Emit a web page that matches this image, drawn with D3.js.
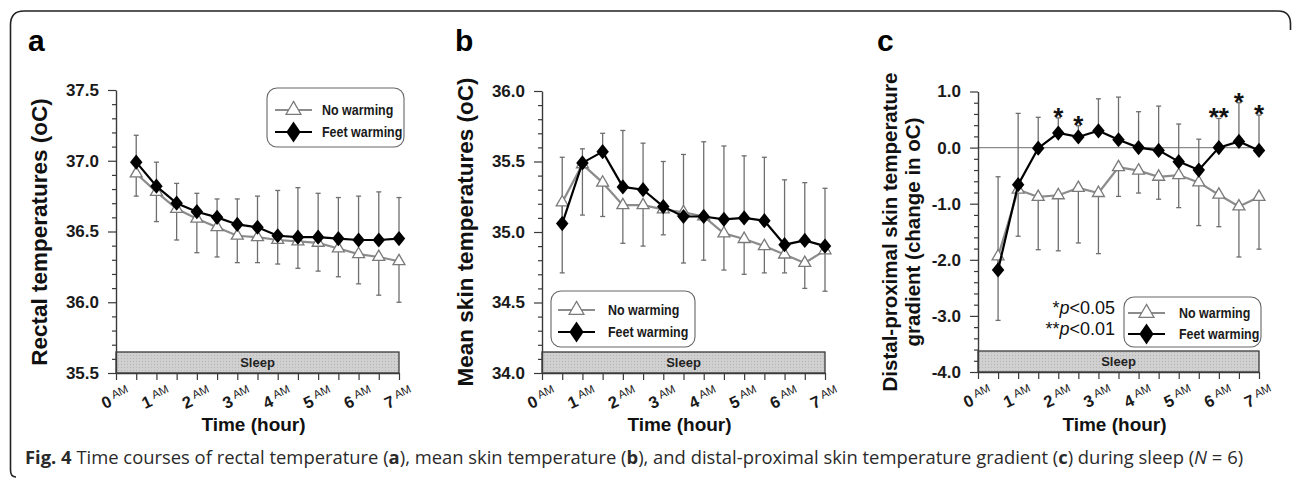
<!DOCTYPE html>
<html>
<head>
<meta charset="utf-8">
<script src="https://cdn.jsdelivr.net/npm/d3@7"></script>
<style>
  body { margin: 0; background: #fff; }
  svg { display: block; font-family: "Liberation Sans", Arial, sans-serif; }
</style>
</head>
<body>
<svg id="fig" width="1292" height="480"></svg>
<script>
// time points (hour after lights off)
const hours = [0.5, 1, 1.5, 2, 2.5, 3, 3.5, 4, 4.5, 5, 5.5, 6, 6.5, 7];
const hourTicks = [0, 1, 2, 3, 4, 5, 6, 7];

// a: rectal temperature
const rectalNo = [36.91, 36.78, 36.66, 36.59, 36.53, 36.47, 36.46, 36.44, 36.43, 36.42, 36.38, 36.34, 36.32, 36.29];
const rectalNoSd = [0.16, 0.21, 0.22, 0.24, 0.21, 0.19, 0.18, 0.17, 0.19, 0.20, 0.20, 0.21, 0.27, 0.29];
const rectalFeet = [36.99, 36.82, 36.70, 36.64, 36.60, 36.55, 36.53, 36.47, 36.46, 36.46, 36.45, 36.44, 36.44, 36.45];
const rectalFeetSd = [0.19, 0.17, 0.14, 0.13, 0.13, 0.18, 0.22, 0.32, 0.35, 0.31, 0.29, 0.31, 0.34, 0.29];

// b: mean skin temperature
const skinNo = [35.21, 35.48, 35.35, 35.19, 35.19, 35.16, 35.14, 35.11, 34.99, 34.95, 34.90, 34.84, 34.78, 34.87];
const skinNoSd = [0.50, 0.36, 0.24, 0.27, 0.29, 0.18, 0.36, 0.31, 0.26, 0.25, 0.19, 0.13, 0.18, 0.29];
const skinFeet = [35.06, 35.49, 35.57, 35.32, 35.30, 35.18, 35.11, 35.11, 35.09, 35.10, 35.08, 34.91, 34.94, 34.90];
const skinFeetSd = [0.47, 0.10, 0.13, 0.40, 0.33, 0.32, 0.44, 0.53, 0.52, 0.44, 0.45, 0.46, 0.41, 0.41];

// c: distal-proximal gradient (change)
const gradNo = [-1.94, -0.75, -0.88, -0.85, -0.72, -0.81, -0.35, -0.41, -0.52, -0.49, -0.62, -0.84, -1.05, -0.88];
const gradNoSd = [1.14, 0.83, 0.94, 0.99, 0.98, 1.08, 0.52, 0.40, 0.40, 0.58, 0.77, 0.57, 0.90, 0.93];
const gradFeet = [-2.18, -0.66, -0.01, 0.26, 0.19, 0.30, 0.14, 0.00, -0.05, -0.25, -0.40, 0.00, 0.11, -0.05];
const gradFeetSd = [1.66, 1.27, 0.55, 0.27, 0.20, 0.57, 0.76, 0.64, 0.79, 0.67, 0.55, 0.52, 0.69, 0.63];
const gradSig = ["", "", "", "*", "*", "", "", "", "", "", "", "**", "*", "*"];

const legendLabels = ["No warming", "Feet warming"];

const GRAY = "#8c8c8c";
const BAR = "#6e6e6e";
const AXIS = "#3a3a3a";

const svg = d3.select("#fig");

// diamond used by d3.symbol, a bit taller than wide
function diamond(ratio) {
  return {
    draw(ctx, size) {
      const h = Math.sqrt(size / (2 * ratio));
      const w = h * ratio;
      ctx.moveTo(0, -h);
      ctx.lineTo(w, 0);
      ctx.lineTo(0, h);
      ctx.lineTo(-w, 0);
      ctx.closePath();
    }
  };
}

// speckled grey for the sleep bar
const pat = svg.append("defs").append("pattern")
  .attr("id", "stipple").attr("width", 3).attr("height", 3)
  .attr("patternUnits", "userSpaceOnUse");
pat.append("rect").attr("width", 3).attr("height", 3).attr("fill", "#d0d0d0");
pat.append("rect").attr("x", 1).attr("y", 1).attr("width", 1).attr("height", 1).attr("fill", "#b4b4b4");

// figure frame
svg.append("path")
  .attr("d", "M16,477 Q10.5,477 10.5,470 L10.5,25 Q10.5,11 24,11 L1278,11 Q1290.5,11 1290.5,24 L1290.5,30")
  .attr("fill", "none").attr("stroke", "#222").attr("stroke-width", 1.6);

const panels = [
  {
    letter: "a", letterX: 28, left: 116, right: 399, top: 90, bottom: 373,
    domain: [35.5, 37.5], major: 0.5, minor: 0.1,
    no: rectalNo, noSd: rectalNoSd, feet: rectalFeet, feetSd: rectalFeetSd,
    title: ["Rectal temperatures (oC)"], titleX: [47], titleSize: 22.5,
    legend: { x: 267, y: 88, w: 137, h: 59, lx: 275, tx: 322, rows: [110, 132] }
  },
  {
    letter: "b", letterX: 455, left: 542, right: 825, top: 91, bottom: 373,
    domain: [34.0, 36.0], major: 0.5, minor: 0.1,
    no: skinNo, noSd: skinNoSd, feet: skinFeet, feetSd: skinFeetSd,
    title: ["Mean skin temperatures (oC)"], titleX: [473], titleSize: 22.5,
    legend: { x: 551, y: 291, w: 144, h: 56, lx: 558, tx: 608, rows: [310, 332] }
  },
  {
    letter: "c", letterX: 877, left: 978, right: 1259, top: 91.5, bottom: 372,
    domain: [-4.0, 1.0], major: 1.0, minor: 0.2, zeroLine: true, sig: gradSig,
    no: gradNo, noSd: gradNoSd, feet: gradFeet, feetSd: gradFeetSd,
    title: ["Distal-proximal skin temperature", "gradient (change in oC)"], titleX: [897, 920], titleSize: 20.5,
    legend: { x: 1124, y: 297, w: 137, h: 50, lx: 1128, tx: 1179, rows: [313, 334] }
  }
];

panels.forEach(drawPanel);

function drawPanel(p) {
  const x = d3.scaleLinear().domain([0, 7]).range([p.left, p.right]);
  const y = d3.scaleLinear().domain(p.domain).range([p.bottom, p.top]);
  const g = svg.append("g");

  g.append("text")
    .attr("x", p.letterX).attr("y", 51)
    .attr("font-size", 30).attr("font-weight", "bold")
    .text(p.letter);

  // sleep bar along the bottom
  g.append("rect")
    .attr("x", x(0)).attr("y", p.bottom - 21)
    .attr("width", x(7) - x(0)).attr("height", 21)
    .attr("fill", "url(#stipple)").attr("stroke", "#3a3a3a").attr("stroke-width", 1.3);
  g.append("text")
    .attr("x", (x(0) + x(7)) / 2).attr("y", p.bottom - 6)
    .attr("text-anchor", "middle").attr("font-size", 13).attr("font-weight", "bold")
    .attr("fill", "#222")
    .text("Sleep");

  if (p.zeroLine) {
    g.append("line")
      .attr("x1", x(0)).attr("x2", x(7))
      .attr("y1", y(0)).attr("y2", y(0))
      .attr("stroke", "#8a8a8a").attr("stroke-width", 1.2);
  }

  // y axis: minor then major ticks
  const eps = 1e-6;
  const majors = d3.range(p.domain[0], p.domain[1] + eps, p.major);
  const minors = d3.range(p.domain[0], p.domain[1] + eps, p.minor)
    .filter(v => majors.every(m => Math.abs(m - v) > eps));

  g.append("g")
    .attr("transform", `translate(${p.left},0)`)
    .call(d3.axisLeft(y).tickValues(minors).tickSize(4).tickFormat(""))
    .call(s => s.select(".domain").remove())
    .call(s => s.selectAll("line").attr("stroke", AXIS).attr("stroke-width", 1.2));

  g.append("g")
    .attr("transform", `translate(${p.left},0)`)
    .call(d3.axisLeft(y).tickValues(majors).tickSize(8).tickSizeOuter(0).tickPadding(9)
      .tickFormat(d => d.toFixed(1)))
    .call(s => s.select(".domain").attr("stroke", AXIS).attr("stroke-width", 1.4))
    .call(s => s.selectAll("line").attr("stroke", AXIS).attr("stroke-width", 1.2))
    .call(s => s.selectAll("text")
      .attr("font-family", "Liberation Sans, Arial, sans-serif")
      .attr("font-size", 17).attr("font-weight", "bold").attr("fill", "#1a1a1a"));

  // x axis, ticks every half hour
  g.append("g")
    .attr("transform", `translate(0,${p.bottom})`)
    .call(d3.axisBottom(x).tickValues(d3.range(0, 7 + eps, 0.5)).tickSize(7).tickSizeOuter(0).tickFormat(""))
    .call(s => s.select(".domain").attr("stroke", AXIS).attr("stroke-width", 1.4))
    .call(s => s.selectAll("line").attr("stroke", AXIS).attr("stroke-width", 1.2));

  const lbl = g.append("g").selectAll("text").data(hourTicks).join("text")
    .attr("transform", d => `translate(${x(d) + 2},${p.bottom + 30}) rotate(-25)`)
    .attr("text-anchor", "middle").attr("fill", "#1a1a1a");
  lbl.append("tspan").attr("font-size", 16.5).attr("font-weight", "bold").text(d => d);
  lbl.append("tspan").attr("font-size", 11.5).attr("dy", -5.5).attr("dx", 3).text("AM");

  g.append("text")
    .attr("x", (x(0) + x(7)) / 2 - 4).attr("y", 431)
    .attr("text-anchor", "middle").attr("font-size", 19).attr("font-weight", "bold")
    .attr("fill", "#111")
    .text("Time (hour)");

  p.title.forEach((t, k) => {
    g.append("text")
      .attr("transform", `translate(${p.titleX[k]},${232}) rotate(-90)`)
      .attr("text-anchor", "middle").attr("font-size", p.titleSize).attr("font-weight", "bold")
      .attr("fill", "#111")
      .text(t);
  });

  // error bars: feet warming upward, no warming downward
  const bars = g.append("g").attr("stroke", BAR).attr("stroke-width", 1.3);
  const ends = [
    hours.map((h, i) => ({ h, from: p.feet[i], to: p.feet[i] + p.feetSd[i] })),
    hours.map((h, i) => ({ h, from: p.no[i], to: p.no[i] - p.noSd[i] }))
  ].flat();
  bars.selectAll("line.stem").data(ends).join("line").attr("class", "stem")
    .attr("x1", d => x(d.h)).attr("x2", d => x(d.h))
    .attr("y1", d => y(d.from)).attr("y2", d => y(d.to));
  bars.selectAll("line.cap").data(ends).join("line").attr("class", "cap")
    .attr("x1", d => x(d.h) - 2.5).attr("x2", d => x(d.h) + 2.5)
    .attr("y1", d => y(d.to)).attr("y2", d => y(d.to));

  const line = d3.line().x((d, i) => x(hours[i])).y(d => y(d));

  g.append("path").datum(p.no)
    .attr("fill", "none").attr("stroke", GRAY).attr("stroke-width", 2.2).attr("d", line);
  g.append("g").selectAll("path").data(p.no).join("path")
    .attr("transform", (d, i) => `translate(${x(hours[i])},${y(d)})`)
    .attr("d", d3.symbol(d3.symbolTriangle, 62))
    .attr("fill", "#fff").attr("stroke", "#7a7a7a").attr("stroke-width", 1.3);

  g.append("path").datum(p.feet)
    .attr("fill", "none").attr("stroke", "#000").attr("stroke-width", 2.2).attr("d", line);
  g.append("g").selectAll("path").data(p.feet).join("path")
    .attr("transform", (d, i) => `translate(${x(hours[i])},${y(d)})`)
    .attr("d", d3.symbol(diamond(0.82), 95))
    .attr("fill", "#000");

  if (p.sig) {
    g.append("g").selectAll("text").data(p.sig).join("text")
      .attr("x", (d, i) => x(hours[i]))
      .attr("y", (d, i) => y(p.feet[i] + p.feetSd[i]) + 8)
      .attr("text-anchor", "middle").attr("font-size", 26).attr("font-weight", "bold")
      .attr("fill", "#111")
      .text(d => d);

    const pv = g.append("g").attr("font-size", 18).attr("fill", "#111").attr("text-anchor", "end");
    const t1 = pv.append("text").attr("x", 1115).attr("y", 314);
    t1.append("tspan").text("*");
    t1.append("tspan").attr("font-style", "italic").text("p");
    t1.append("tspan").text("<0.05");
    const t2 = pv.append("text").attr("x", 1115).attr("y", 335);
    t2.append("tspan").text("**");
    t2.append("tspan").attr("font-style", "italic").text("p");
    t2.append("tspan").text("<0.01");
  }

  // legend
  const L = p.legend;
  const lg = g.append("g");
  lg.append("rect")
    .attr("x", L.x).attr("y", L.y).attr("width", L.w).attr("height", L.h)
    .attr("rx", 10).attr("fill", "#fff").attr("stroke", "#666").attr("stroke-width", 1.1);
  legendLabels.forEach((name, k) => {
    const cy = L.rows[k];
    lg.append("line")
      .attr("x1", L.lx).attr("x2", L.lx + 37).attr("y1", cy).attr("y2", cy)
      .attr("stroke", k === 0 ? GRAY : "#000").attr("stroke-width", 2.2);
    lg.append("path")
      .attr("transform", `translate(${L.lx + 18.5},${cy})`)
      .attr("d", k === 0 ? d3.symbol(d3.symbolTriangle, 95)() : d3.symbol(diamond(0.68), 150)())
      .attr("fill", k === 0 ? "#fff" : "#000")
      .attr("stroke", k === 0 ? "#7a7a7a" : "none").attr("stroke-width", 1.3);
    // the original legend face is a condensed bold
    lg.append("text")
      .attr("transform", `translate(${L.tx},${cy + 5}) scale(0.86,1)`)
      .attr("font-size", 14.5).attr("font-weight", "bold").attr("fill", "#1a1a1a")
      .text(name);
  });
}

// caption
const cap = svg.append("text")
  .attr("x", 25).attr("y", 464)
  .attr("font-family", "'Open Sans', sans-serif").attr("font-size", 18.4).attr("fill", "#2a2a2a");
cap.append("tspan").attr("font-weight", "bold").text("Fig. 4");
cap.append("tspan").text(" Time courses of rectal temperature (");
cap.append("tspan").attr("font-weight", "bold").text("a");
cap.append("tspan").text("), mean skin temperature (");
cap.append("tspan").attr("font-weight", "bold").text("b");
cap.append("tspan").text("), and distal-proximal skin temperature gradient (");
cap.append("tspan").attr("font-weight", "bold").text("c");
cap.append("tspan").text(") during sleep (");
cap.append("tspan").attr("font-style", "italic").text("N");
cap.append("tspan").text(" = 6)");
</script>
</body>
</html>
